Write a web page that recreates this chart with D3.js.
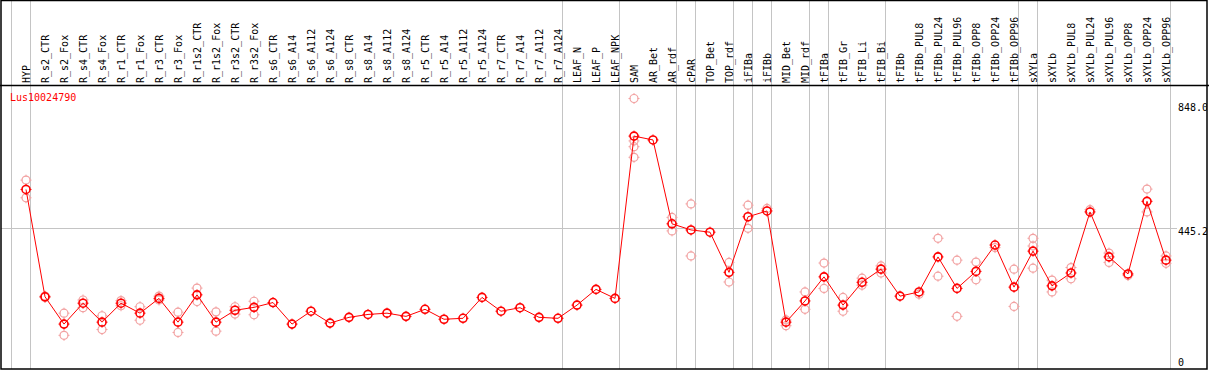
<!DOCTYPE html>
<html>
<head>
<meta charset="utf-8">
<script src="https://cdn.jsdelivr.net/npm/d3@7"></script>
<style>
  body { margin: 0; background: #fff; }
  text { font-family: "DejaVu Sans Mono", monospace; font-size: 10px; }
</style>
</head>
<body>
<div id="chart"></div>
<script>
// sample names, one column each
var samples = ["HYP","R_s2_CTR","R_s2_Fox","R_s4_CTR","R_s4_Fox","R_r1_CTR","R_r1_Fox","R_r3_CTR","R_r3_Fox",
  "R_r1s2_CTR","R_r1s2_Fox","R_r3s2_CTR","R_r3s2_Fox","R_s6_CTR","R_s6_A14","R_s6_A112","R_s6_A124",
  "R_s8_CTR","R_s8_A14","R_s8_A112","R_s8_A124","R_r5_CTR","R_r5_A14","R_r5_A112","R_r5_A124",
  "R_r7_CTR","R_r7_A14","R_r7_A112","R_r7_A124","LEAF_N","LEAF_P","LEAF_NPK","SAM","AR_Bet","AR_rdf",
  "cPAR","TOP_Bet","TOP_rdf","iFIBa","iFIBb","MID_Bet","MID_rdf","tFIBa","tFIB_Gr","tFIB_Li","tFIB_Bi",
  "tFIBb","tFIBb_PUL8","tFIBb_PUL24","tFIBb_PUL96","tFIBb_OPP8","tFIBb_OPP24","tFIBb_OPP96","sXYLa",
  "sXYLb","sXYLb_PUL8","sXYLb_PUL24","sXYLb_PUL96","sXYLb_OPP8","sXYLb_OPP24","sXYLb_OPP96"];

// mean expression per sample
var means = [565,231,146,211,152,211,180,226,152,237,152,189,198,213,146,186,149,167,176,180,170,
  192,161,164,229,186,197,167,164,205,254,226,731,719,458,439,432,307,480,498,152,218,293,205,276,317,
  233,246,355,257,310,392,261,373,265,305,495,355,302,528,345];

// individual replicates per sample (empty when none shown)
var replicates = [
  [594,539],[229,233],[180,111],[221,197],[172,129],[219,203],[200,158],[233,221],[183,120],
  [258,216],[184,124],[200,177],[217,175],[],[],[],[],
  [],[],[],[],[],[],[],[],
  [],[],[],[],[],[],[],
  [848,716,698,665],[],[478,436],[520,358],[],[338,277],[516,444],[506],[159,141],[246,192],
  [336,257],[229,186],[289,267],[327,305],
  [],[239],[413,295],[345,170],[339,284],[384],[317,201],[413,389,320],
  [283,246],[322,287],[502],[367,338],[297],[566,495],[358,335]
];

// columns after which a grey separator is drawn
var separators = [-1,0,28,31,34,35,37,38,39,41,42,45,52,53,60];
var yTicks = [0, 445.2, 848.0];
var yTickLabels = ["0", "445.2", "848.0"];
var gridValues = [445.2];
var geneName = "Lus10024790";

var W = 1209, H = 370;
var svg = d3.select("#chart").append("svg")
  .attr("width", W).attr("height", H);

var x = d3.scaleLinear().domain([0, samples.length - 1]).range([26, 1166]);
var y = d3.scaleLinear().domain([0, 848]).range([371, 98.5]);

// clip for the y labels so they are cut by the right border
svg.append("clipPath").attr("id", "box")
  .append("rect").attr("x", 0).attr("y", 0).attr("width", 1207).attr("height", H);

// grey separators, full height
svg.selectAll(".sep").data(separators).enter().append("line")
  .attr("x1", function(d) { return Math.round(x(d) + 4) + 0.5; })
  .attr("x2", function(d) { return Math.round(x(d) + 4) + 0.5; })
  .attr("y1", 0).attr("y2", 369)
  .style("stroke", "#c4c4c4").style("stroke-width", 1);

// horizontal grid line
svg.selectAll(".grid").data(gridValues).enter().append("line")
  .attr("x1", 1).attr("x2", 1177)
  .attr("y1", function(d) { return Math.round(y(d)) + 0.5; })
  .attr("y2", function(d) { return Math.round(y(d)) + 0.5; })
  .style("stroke", "#c4c4c4").style("stroke-width", 1);

// rotated sample labels
svg.selectAll(".lab").data(samples).enter().append("text")
  .attr("transform", function(d, i) { return "translate(" + (x(i) + 4) + ",83) rotate(-90)"; })
  .attr("fill", "black")
  .text(function(d) { return d; });

// y labels
svg.append("g").attr("clip-path", "url(#box)")
  .selectAll("text").data(yTicks).enter().append("text")
  .attr("x", 1178)
  .attr("y", function(d, i) { return y(d) + (i == 0 ? -5 : (i == 1 ? 7.5 : 12)); })
  .attr("fill", "black")
  .text(function(d, i) { return yTickLabels[i]; });

// gene name
svg.append("text").attr("x", 10).attr("y", 101)
  .attr("fill", "red").text(geneName);

function marker(g, cx, cy, color, sw) {
  var r = 4;
  g.append("circle").attr("cx", cx).attr("cy", cy).attr("r", r)
    .style("fill", "none").style("stroke", color).style("stroke-width", sw);
  [[0,-1],[0,1],[-1,0],[1,0]].forEach(function(v) {
    g.append("line")
      .attr("x1", cx + v[0] * (r - 0.5)).attr("y1", cy + v[1] * (r - 0.5))
      .attr("x2", cx + v[0] * (r + 1.5)).attr("y2", cy + v[1] * (r + 1.5))
      .style("stroke", color).style("stroke-width", 1);
  });
}

// replicates
var repG = svg.append("g");
replicates.forEach(function(list, i) {
  list.forEach(function(v) { marker(repG, x(i), y(v), "#f2a2a2", 1.2); });
});

// mean line
var line = d3.line()
  .x(function(d, i) { return x(i); })
  .y(function(d) { return y(d); });
svg.append("path").datum(means)
  .attr("d", line)
  .style("fill", "none").style("stroke", "red").style("stroke-width", 1);

var meanG = svg.append("g");
means.forEach(function(v, i) { marker(meanG, x(i), y(v), "red", 1.6); });

// frame
svg.append("line").attr("x1", 0).attr("x2", W).attr("y1", 85.5).attr("y2", 85.5)
  .style("stroke", "black").style("stroke-width", 1.5);
svg.append("rect").attr("x", 1).attr("y", 0.5).attr("width", 1206).attr("height", 368.5)
  .style("fill", "none").style("stroke", "black").style("stroke-width", 1.5);
</script>
</body>
</html>
